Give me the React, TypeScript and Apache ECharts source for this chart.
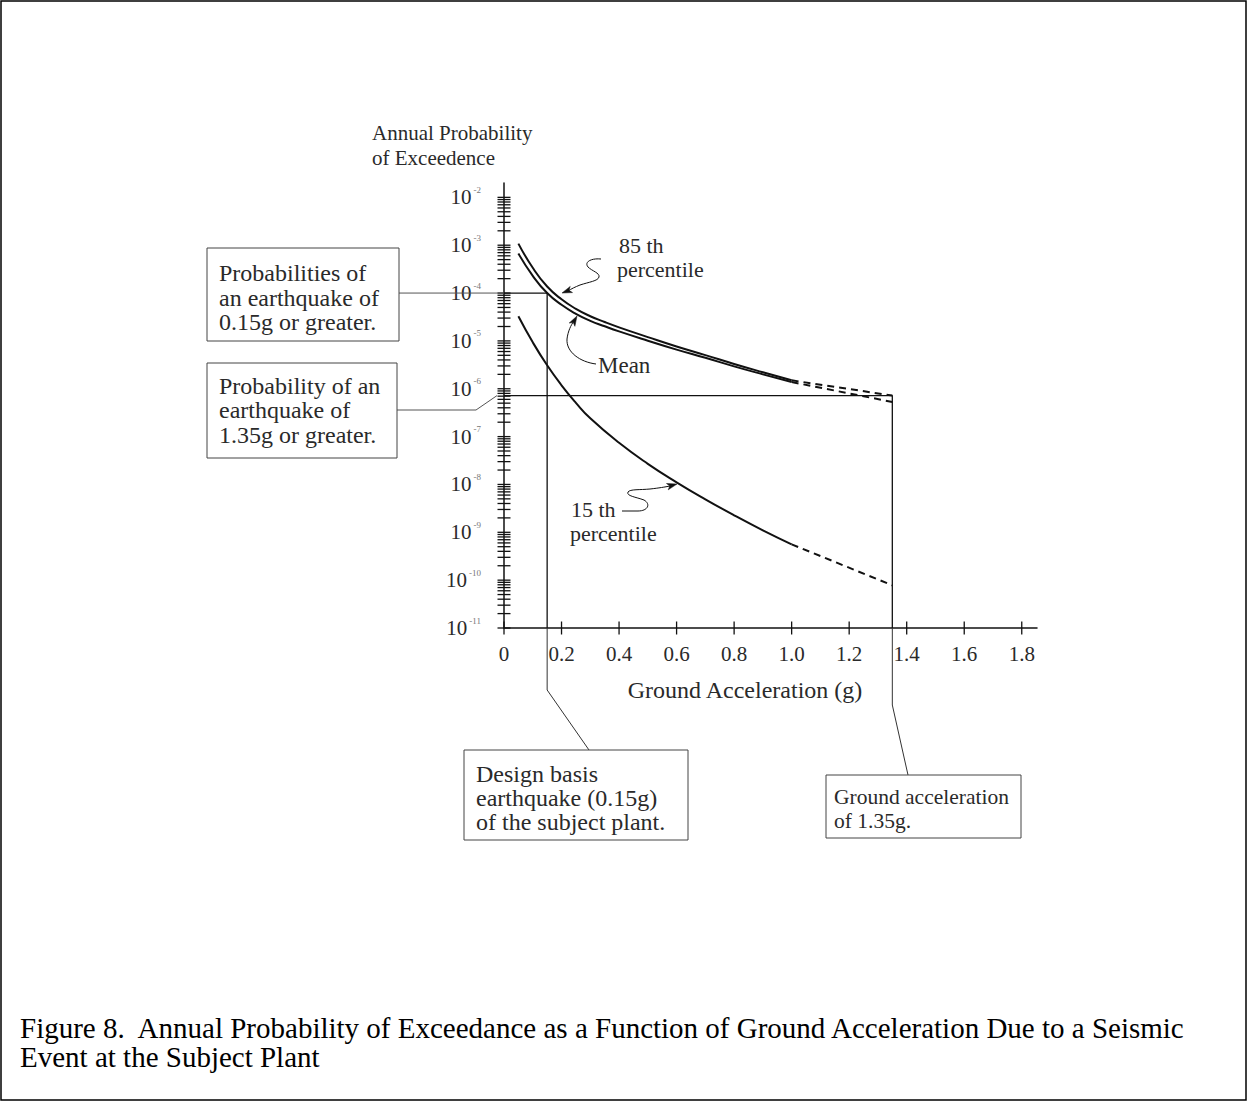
import React, { useEffect, useRef } from "react";
import * as echarts from "echarts";

const FONT = '"Liberation Serif", "Times New Roman", serif';
const INK = "#111";
const TEXT = "#2a2a2a";
const LEADER = "#555";

// Solid parts of the hazard curves: ground acceleration (g) and annual probability of exceedence
const accelMain = [0.05, 0.1, 0.15, 0.2, 0.25, 0.3, 0.35, 0.4, 0.5, 0.6, 0.7, 0.8, 0.9, 1.0];
const prob85th = [1.08e-3, 3.37e-4, 1.37e-4, 7.4e-5, 4.68e-5, 3.28e-5, 2.48e-5, 1.92e-5, 1.2e-5, 7.63e-6, 5.05e-6, 3.3e-6, 2.21e-6, 1.5e-6];
const probMean = [6.67e-4, 2.29e-4, 1.0e-4, 5.68e-5, 3.68e-5, 2.63e-5, 2.02e-5, 1.58e-5, 1.01e-5, 6.58e-6, 4.43e-6, 2.94e-6, 2.0e-6, 1.38e-6];
const accel15th = [0.05, 0.1, 0.15, 0.2, 0.25, 0.3, 0.4, 0.5, 0.6, 0.7, 0.8, 0.9, 1.0];
const prob15th = [3.27e-5, 9.33e-6, 3.09e-6, 1.18e-6, 5.08e-7, 2.41e-7, 7.41e-8, 2.7e-8, 1.11e-8, 4.9e-9, 2.27e-9, 1.1e-9, 5.61e-10];

// Dashed extrapolation from 1.0 g to 1.35 g
const accelExtrap = [1.0, 1.35];
const prob85thExtrap = [1.5e-6, 7.2e-7];
const probMeanExtrap = [1.38e-6, 5.3e-7];
const prob15thExtrap = [5.61e-10, 7.8e-11];

// Reference levels
const designBasisAccel = 0.15;
const designBasisProb = 1.0e-4;
const highAccel = 1.35;
const highProb = 7.2e-7;
const floorProb = 1e-11;

// Axes
const xTicks = [0, 0.2, 0.4, 0.6, 0.8, 1.0, 1.2, 1.4, 1.6, 1.8];
const xMax = 1.853;
const yDecades = [-11, -10, -9, -8, -7, -6, -5, -4, -3, -2];
const yTopExp = -1.7;
const minorMultipliers = [1, 2, 3, 4, 5, 6, 7, 8, 9];

// Curly leader lines of the curve labels
const LEAD_85 = "M 601 259 C 591 258 584 262 588 267 C 592 271 600 273 599 277 C 598 281 589 282 580 285 C 575 287 571 289 568 291";
const LEAD_MEAN = "M 596 364 C 580 362 566 352 567 339 C 568 331 571 325 574 321";
const LEAD_15 = "M 622 511 L 638 511 C 648 511 651 504 644 500 C 636 497 626 496 628 492 C 630 489 640 490 650 489 C 659 488 665 487 670 486";

echarts.graphic.registerShape("lead85", echarts.graphic.extendPath(LEAD_85, {}));
echarts.graphic.registerShape("leadMean", echarts.graphic.extendPath(LEAD_MEAN, {}));
echarts.graphic.registerShape("lead15", echarts.graphic.extendPath(LEAD_15, {}));

const lg = Math.log10;
const pairs = (xs: number[], ps: number[]) => xs.map((x, i) => [x, lg(ps[i])]);

const curve = (name: string, data: number[][], dashed: boolean) => ({
  type: "line",
  name,
  data,
  smooth: dashed ? false : 0.5,
  symbol: "none",
  silent: true,
  z: 4,
  lineStyle: { color: INK, width: 2, type: dashed ? [7, 5] : "solid" },
});

const refLine = (name: string, g: number, p: number) => ({
  type: "line",
  name,
  data: [
    [0, lg(p)],
    [g, lg(p)],
    [g, lg(floorProb)],
  ],
  symbol: "none",
  silent: true,
  z: 3,
  lineStyle: { color: INK, width: 1.3 },
});

const txt = (text: string, x: number, y: number, size: number, extra: any = {}) => ({
  type: "text",
  x,
  y,
  z: 10,
  style: {
    text,
    fontSize: size,
    fontFamily: FONT,
    fill: TEXT,
    align: "left",
    verticalAlign: "middle",
    lineHeight: size,
    ...extra,
  },
});

const box = (x: number, y: number, w: number, h: number) => ({
  type: "rect",
  shape: { x, y, width: w, height: h },
  style: { fill: "none", stroke: "#444", lineWidth: 1 },
  z: 9,
});

const poly = (points: number[][], color = LEADER, width = 1) => ({
  type: "polyline",
  shape: { points },
  style: { stroke: color, lineWidth: width, fill: "none" },
  z: 8,
});

const arrowHead = (tx: number, ty: number, fx: number, fy: number) => {
  const dx = tx - fx;
  const dy = ty - fy;
  const L = Math.hypot(dx, dy);
  const ux = dx / L;
  const uy = dy / L;
  const len = 10;
  const half = 3.3;
  const bx = tx - ux * len;
  const by = ty - uy * len;
  return {
    type: "polygon",
    shape: {
      points: [
        [tx, ty],
        [bx - uy * half, by + ux * half],
        [bx + ux * 2.5, by + uy * 2.5],
        [bx + uy * half, by - ux * half],
      ],
    },
    style: { fill: INK, stroke: INK, lineWidth: 0.5 },
    z: 10,
  };
};

export default function App() {
  const ref = useRef<HTMLDivElement>(null);

  useEffect(() => {
    if (!ref.current) return;
    const chart = echarts.init(ref.current, null, { renderer: "svg" });

    chart.setOption({
      animation: false,
      backgroundColor: "#ffffff",
      grid: { left: 504, right: 210, top: 183, bottom: 473, containLabel: false },
      xAxis: {
        type: "value",
        min: 0,
        max: xMax,
        interval: 0.2,
        axisLine: { show: true, onZero: false, lineStyle: { color: INK, width: 1.5 } },
        axisTick: { show: false },
        splitLine: { show: false },
        axisLabel: {
          margin: 15,
          fontSize: 21,
          fontFamily: FONT,
          color: TEXT,
          formatter: (v: number) => {
            const k = Math.round(v * 5);
            if (Math.abs(v * 5 - k) > 1e-6) return "";
            return k === 0 ? "0" : (k / 5).toFixed(1);
          },
        },
      },
      yAxis: {
        type: "value",
        min: yDecades[0],
        max: yTopExp,
        interval: 1,
        axisLine: { show: true, onZero: false, lineStyle: { color: INK, width: 1.5 } },
        axisTick: { show: false },
        splitLine: { show: false },
        axisLabel: {
          margin: 23,
          formatter: (v: number) => {
            const r = Math.round(v);
            if (Math.abs(v - r) > 1e-6 || !yDecades.includes(r)) return "";
            return `{b|10}{s|${r}}`;
          },
          rich: {
            b: { fontSize: 21, fontFamily: FONT, color: TEXT, lineHeight: 24 },
            s: { fontSize: 9, fontFamily: FONT, color: "#777", verticalAlign: "top", lineHeight: 12, padding: [0, 0, 0, 2] },
          },
        },
      },
      series: [
        curve("85 th percentile", pairs(accelMain, prob85th), false),
        curve("Mean", pairs(accelMain, probMean), false),
        curve("15 th percentile", pairs(accel15th, prob15th), false),
        curve("85 th percentile (extrapolated)", pairs(accelExtrap, prob85thExtrap), true),
        curve("Mean (extrapolated)", pairs(accelExtrap, probMeanExtrap), true),
        curve("15 th percentile (extrapolated)", pairs(accelExtrap, prob15thExtrap), true),
        refLine("0.15 g", designBasisAccel, designBasisProb),
        refLine("1.35 g", highAccel, highProb),
      ],
    });

    const P = (g: number, e: number) => chart.convertToPixel({ gridIndex: 0 }, [g, e]) as number[];
    const [x0, yAxisY] = P(0, yDecades[0]);
    const els: any[] = [];

    // log-decade tick marks crossing the vertical axis
    const topDecade = yDecades[yDecades.length - 1];
    for (const e of yDecades) {
      const ks = e === topDecade ? [1] : minorMultipliers;
      for (const k of ks) {
        const y = P(0, e + lg(k))[1];
        els.push({ type: "line", shape: { x1: x0 - 6.5, y1: y, x2: x0 + 6.5, y2: y }, style: { stroke: INK, lineWidth: 1.3 }, z: 6 });
      }
    }
    // tick marks crossing the horizontal axis
    for (const t of xTicks) {
      const x = P(t, yDecades[0])[0];
      els.push({ type: "line", shape: { x1: x, y1: yAxisY - 6.5, x2: x, y2: yAxisY + 6.5 }, style: { stroke: INK, lineWidth: 1.3 }, z: 6 });
    }

    const dbPt = P(designBasisAccel, lg(designBasisProb));
    const hiPt = P(highAccel, lg(highProb));

    // axis titles
    els.push(txt("Annual Probability", 372, 133, 21));
    els.push(txt("of Exceedence", 372, 158, 21));
    els.push(txt("Ground Acceleration (g)", 745, 690, 24, { align: "center" }));

    // curve labels with curly leaders
    els.push(txt("85 th", 619, 245, 22, { lineHeight: 22 }));
    els.push(txt("percentile", 617, 269, 22, { lineHeight: 22 }));
    els.push({ type: "lead85", x: 0, y: 0, style: { stroke: INK, fill: "none", lineWidth: 1 }, z: 8 });
    els.push(arrowHead(562, 293, 570, 290));
    els.push(txt("Mean", 598, 365, 23));
    els.push({ type: "leadMean", x: 0, y: 0, style: { stroke: INK, fill: "none", lineWidth: 1 }, z: 8 });
    els.push(arrowHead(577, 316, 573, 323));
    els.push(txt("15 th", 571, 509, 22, { lineHeight: 22 }));
    els.push(txt("percentile", 570, 533, 22, { lineHeight: 22 }));
    els.push({ type: "lead15", x: 0, y: 0, style: { stroke: INK, fill: "none", lineWidth: 1 }, z: 8 });
    els.push(arrowHead(677, 484, 668, 486.5));

    // call-out boxes
    els.push(box(207, 248, 192, 93));
    els.push(txt("Probabilities of", 219, 273, 24, { lineHeight: 22 }));
    els.push(txt("an earthquake of", 219, 298, 24, { lineHeight: 22 }));
    els.push(txt("0.15g or greater.", 219, 322, 24, { lineHeight: 22 }));
    els.push(poly([[399, dbPt[1]], [x0, dbPt[1]]]));

    els.push(box(207, 363, 190, 95));
    els.push(txt("Probability of an", 219, 386, 24, { lineHeight: 22 }));
    els.push(txt("earthquake of", 219, 410, 24, { lineHeight: 22 }));
    els.push(txt("1.35g or greater.", 219, 435, 24, { lineHeight: 22 }));
    els.push(poly([[397, 410], [476, 410], [x0 - 7, hiPt[1]]]));

    els.push(box(464, 750, 224, 90));
    els.push(txt("Design basis", 476, 774, 24, { lineHeight: 22 }));
    els.push(txt("earthquake (0.15g)", 476, 798, 24, { lineHeight: 22 }));
    els.push(txt("of the subject plant.", 476, 822, 24, { lineHeight: 22 }));
    els.push(poly([[dbPt[0], yAxisY], [dbPt[0], 690], [589, 750]], "#333", 1));

    els.push(box(826, 775, 195, 63));
    els.push(txt("Ground acceleration", 834, 797, 21.5, { lineHeight: 22 }));
    els.push(txt("of 1.35g.", 834, 821, 21.5, { lineHeight: 22 }));
    els.push(poly([[hiPt[0], yAxisY], [hiPt[0], 705], [908, 775]], "#333", 1));

    // caption and page frame
    els.push(txt("Figure 8.\u00a0 Annual Probability of Exceedance as a Function of Ground Acceleration Due to a Seismic", 20, 1028, 29, { fill: "#000", lineHeight: 28 }));
    els.push(txt("Event at the Subject Plant", 20, 1057, 29, { fill: "#000", lineHeight: 28 }));
    els.push({ type: "rect", shape: { x: 1, y: 1, width: 1245, height: 1099 }, style: { fill: "none", stroke: "#000", lineWidth: 1.5 }, z: 1 });

    chart.setOption({ graphic: els });

    return () => chart.dispose();
  }, []);

  return (
    <div
      ref={ref}
      style={{ position: "absolute", left: 0, top: 0, width: 1247, height: 1101, background: "#fff" }}
    />
  );
}
